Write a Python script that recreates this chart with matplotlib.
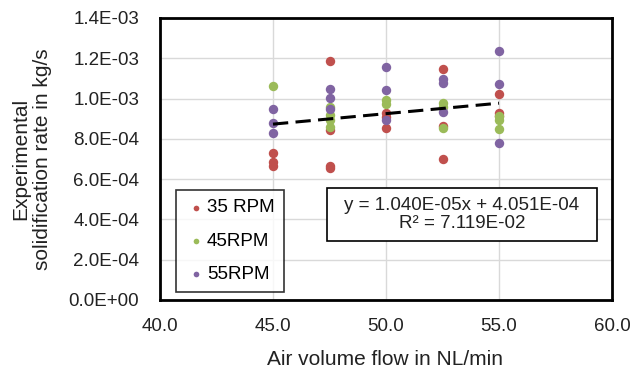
import matplotlib
matplotlib.use('Agg')
import matplotlib.pyplot as plt
from matplotlib.patches import Rectangle
import numpy as np

plt.rcParams['font.family'] = ['Liberation Sans', 'DejaVu Sans']

# data (x in NL/min, y in kg/s)
x_35 = [45, 45, 45, 47.5, 47.5, 47.5, 47.5, 50, 50, 50, 52.5, 52.5, 52.5, 55, 55, 55]
y_35 = [7.28e-4, 6.87e-4, 6.67e-4, 1.187e-3, 8.44e-4, 6.65e-4, 6.55e-4,
        9.27e-4, 9.10e-4, 8.56e-4, 1.145e-3, 8.64e-4, 6.98e-4, 1.023e-3, 9.30e-4, 9.14e-4]

x_45 = [45, 47.5, 47.5, 47.5, 47.5, 50, 50, 52.5, 52.5, 52.5, 55, 55, 55]
y_45 = [1.062e-3, 9.57e-4, 9.18e-4, 8.94e-4, 8.61e-4, 9.93e-4, 9.73e-4,
        9.80e-4, 9.57e-4, 8.52e-4, 9.14e-4, 8.94e-4, 8.47e-4]

x_55 = [45, 45, 45, 47.5, 47.5, 47.5, 50, 50, 50, 52.5, 52.5, 52.5, 55, 55, 55]
y_55 = [9.48e-4, 8.80e-4, 8.31e-4, 1.048e-3, 1.001e-3, 9.47e-4,
        1.158e-3, 1.043e-3, 8.94e-4, 1.096e-3, 1.076e-3, 9.32e-4,
        1.238e-3, 1.071e-3, 7.81e-4]

# trendline from the chart's equation
slope = 1.040e-05
intercept = 4.051e-04
r2 = 7.119e-02
trend_x = [45, 55]

fig = plt.figure(figsize=(6.3, 3.72), dpi=100)
ax = fig.add_axes([160/630, 1-300/372, (612-160)/630, (300-18)/372])

ax.scatter(x_35, y_35, s=46, color='#C0504D', label='35 RPM', zorder=3, linewidths=0)
ax.scatter(x_45, y_45, s=46, color='#9BBB59', label='45RPM', zorder=3, linewidths=0)
ax.scatter(x_55, y_55, s=46, color='#8064A2', label='55RPM', zorder=3, linewidths=0)

tx = np.array(trend_x)
ax.plot(tx, slope*tx + intercept, color='black', lw=2.2, ls=(0, (5, 2.4)), zorder=4)

ax.set_xlim(40, 60)
ax.set_ylim(0, 1.4e-3)
ax.set_xticks([40, 45, 50, 55, 60])
ax.set_xticklabels(['40.0', '45.0', '50.0', '55.0', '60.0'])
yt = np.arange(0, 1.41e-3, 2e-4)
ax.set_yticks(yt)
ax.set_yticklabels(['%.1E' % v for v in yt])
ax.tick_params(length=0, labelsize=13.5, colors='#222222')
ax.tick_params(axis='y', pad=15)
ax.tick_params(axis='x', pad=13)
ax.grid(True, color='#D9D9D9', lw=1)
ax.set_axisbelow(True)
for s in ax.spines.values():
    s.set_linewidth(2)
    s.set_color('black')

ax.set_xlabel('Air volume flow in NL/min', fontsize=15, color='#222222')
ax.xaxis.set_label_coords((385-160)/452, -(350-300)/282)
ax.set_ylabel('Experimental\nsolidification rate in kg/s', fontsize=15, color='#222222',
              linespacing=1.2)
ax.yaxis.set_label_coords(-(160-52)/452, 0.5)

leg = ax.legend(loc='lower left', bbox_to_anchor=(16/452, 8/282), fontsize=13.5,
                frameon=True, fancybox=False, edgecolor='black', markerscale=0.6,
                handletextpad=0.05, borderpad=0.5, labelspacing=0.85, handlelength=1.1,
                borderaxespad=0)
leg.get_frame().set_linewidth(1.2)

# equation box
bx0, bx1, by0, by1 = 327, 597, 188, 241
ax.add_patch(Rectangle(((bx0-160)/452, 1-(by1-18)/282), (bx1-bx0)/452, (by1-by0)/282,
                       transform=ax.transAxes, fc='white', ec='black', lw=1.2, zorder=5))
ax.text(((bx0+bx1)/2-160)/452, 1-((by0+by1)/2-18)/282,
        'y = %.3Ex + %.3E\nR² = %.3E' % (slope, intercept, r2),
        transform=ax.transAxes, fontsize=13.5, ha='center', va='center', linespacing=1.0,
        zorder=6, color='#222222')

fig.savefig('out.png', dpi=100)
